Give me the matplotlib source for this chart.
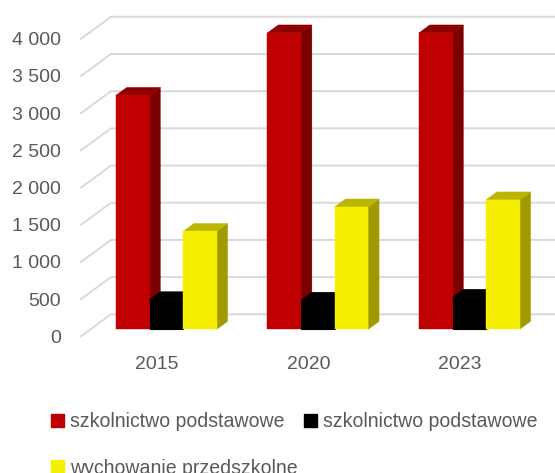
import matplotlib
matplotlib.use("Agg")
import matplotlib.pyplot as plt
from matplotlib.patches import Polygon, Patch

years = ["2015", "2020", "2023"]
names = ["szkolnictwo podstawowe", "szkolnictwo podstawowe", "wychowanie przedszkolne"]
red_vals = [3145, 3985, 3985]
black_vals = [395, 385, 425]
yellow_vals = [1315, 1645, 1740]
y_ticks = [0, 500, 1000, 1500, 2000, 2500, 3000, 3500, 4000]
y_labels = ["0", "500", "1 000", "1 500", "2 000", "2 500", "3 000", "3 500", "4 000"]

W, H = 555, 473
GRID = "#d9d9d9"
TXT = "#595959"
FRONT = ["#c00000", "#000000", "#f7ef00"]
SIDE = ["#7a0000", "#000000", "#a09a00"]
TOP = ["#8e0000", "#000000", "#bdb600"]

plt.rcParams["font.family"] = ["Liberation Sans"]
fig = plt.figure(figsize=(W / 100, H / 100), dpi=100)
ax = fig.add_axes([81 / W, (H - 336.3) / H, 454.5 / W, 297.5 / H])
ax.set_xlim(-0.5, 2.5)
ax.set_ylim(0, 4000)
for s in ax.spines.values():
    s.set_visible(False)
ax.patch.set_visible(False)

DX = 30 / 151.5
DY = 22 * 4000 / 297.5


def proj(x, y, d):
    return (x + d * DX, y + d * DY)


for v in y_ticks:
    ax.plot(*zip(proj(-0.5, v, 0), proj(-0.5, v, 1), proj(2.6, v, 1)),
            color=GRID, lw=1.4, clip_on=False, zorder=1, solid_joinstyle="miter")

bw = 33.6 / 151.5
d0, d1 = 0.32, 0.68
series = [red_vals, black_vals, yellow_vals]
z = 2
for i in range(len(years)):
    for k, vals in enumerate(series):
        v = vals[i]
        l = i + (k - 1.5) * bw
        r = l + bw
        faces = [
            (SIDE[k], [proj(r, 0, d0), proj(r, 0, d1), proj(r, v, d1), proj(r, v, d0)]),
            (TOP[k], [proj(l, v, d0), proj(r, v, d0), proj(r, v, d1), proj(l, v, d1)]),
            (FRONT[k], [proj(l, 0, d0), proj(r, 0, d0), proj(r, v, d0), proj(l, v, d0)]),
        ]
        for col, pts in faces:
            ax.add_patch(Polygon(pts, closed=True, facecolor=col, edgecolor=col,
                                 lw=0.8 if k == 1 else 0.3, clip_on=False, zorder=z))
            z += 1

ax.set_xticks(range(len(years)), years)
ax.set_yticks(y_ticks, y_labels)
ax.tick_params(axis="x", length=0, pad=14.5, labelsize=14, labelcolor=TXT)
ax.tick_params(axis="y", length=0, pad=14.5, labelsize=14, labelcolor=TXT)

handles = [Patch(color=FRONT[0]), Patch(color=FRONT[2]), Patch(color=FRONT[1])]
labels = [names[0], names[2], names[1]]
fig.legend(handles, labels, ncol=2, loc="upper left",
           bbox_to_anchor=(51 / W, 1 - 412 / H), bbox_transform=fig.transFigure,
           frameon=False, fontsize=14.05, labelcolor=TXT, handlelength=0.67, handleheight=0.67,
           handletextpad=0.28, labelspacing=1.42, columnspacing=0.36, borderpad=0, borderaxespad=0)

fig.savefig("out.png", dpi=100)
